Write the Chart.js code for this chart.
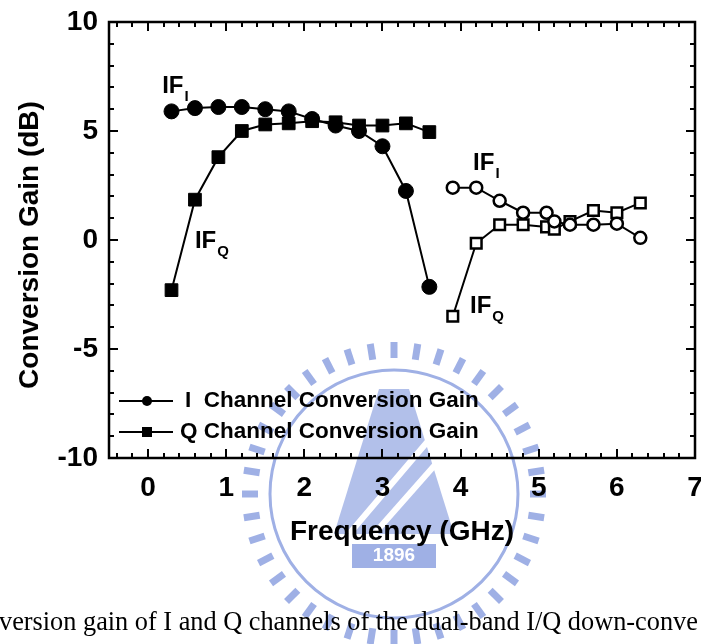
<!DOCTYPE html>
<html>
<head>
<meta charset="utf-8">
<script src="https://cdn.jsdelivr.net/npm/chart.js@4.4.0/dist/chart.umd.min.js"></script>
<style>
  html, body { margin: 0; padding: 0; background: #fff; }
  canvas { display: block; }
</style>
</head>
<body>
<canvas id="grafico" width="701" height="644"></canvas>
<script>
// datos
var band1Freq = [0.3, 0.6, 0.9, 1.2, 1.5, 1.8, 2.1, 2.4, 2.7, 3.0, 3.3, 3.6];
var band1I = [5.9, 6.05, 6.1, 6.1, 6.0, 5.9, 5.55, 5.25, 5.0, 4.3, 2.25, -2.15];
var band1Q = [-2.3, 1.85, 3.8, 5.0, 5.3, 5.35, 5.45, 5.4, 5.25, 5.25, 5.35, 4.95];
var band2Freq = [3.9, 4.2, 4.5, 4.8, 5.1, 5.2, 5.4, 5.7, 6.0, 6.3];
var band2I = [2.4, 2.4, 1.8, 1.25, 1.25, 0.85, 0.7, 0.7, 0.75, 0.1];
var band2Q = [-3.5, -0.15, 0.7, 0.7, 0.6, 0.5, 0.85, 1.35, 1.25, 1.7];
var xTicks = [0, 1, 2, 3, 4, 5, 6, 7];
var yTicks = [-10, -5, 0, 5, 10];
var legendLabels = ["I  Channel Conversion Gain", "Q Channel Conversion Gain"];

var FONT = "'Liberation Sans', Arial, sans-serif";

function puntos(xs, ys) {
  return xs.map(function (x, i) { return { x: x, y: ys[i] }; });
}

// sello azul claro detras del grafico (marca de agua)
var sello = {
  id: "sello",
  beforeDraw: function (chart) {
    var ctx = chart.ctx;
    var cx = 394, cy = 494;
    ctx.save();
    ctx.strokeStyle = "#9fb0e5";
    ctx.fillStyle = "#9fb0e5";
    ctx.lineWidth = 7;
    for (var k = 0; k < 40; k++) {
      var t = k / 40 * Math.PI * 2;
      ctx.beginPath();
      ctx.moveTo(cx + Math.cos(t) * 136, cy + Math.sin(t) * 136);
      ctx.lineTo(cx + Math.cos(t) * 152, cy + Math.sin(t) * 152);
      ctx.stroke();
    }
    ctx.lineWidth = 3;
    ctx.beginPath();
    ctx.arc(cx, cy, 124, 0, Math.PI * 2);
    ctx.stroke();
    // torre central simplificada
    ctx.globalAlpha = 0.8;
    ctx.beginPath();
    ctx.moveTo(cx - 15, cy - 105);
    ctx.lineTo(cx + 15, cy - 105);
    ctx.lineTo(cx + 60, cy + 40);
    ctx.lineTo(cx - 60, cy + 40);
    ctx.closePath();
    ctx.fill();
    ctx.globalAlpha = 1;
    ctx.strokeStyle = "#fff";
    ctx.lineWidth = 6;
    ctx.beginPath();
    ctx.moveTo(cx - 45, cy + 40); ctx.lineTo(cx + 40, cy - 60);
    ctx.moveTo(cx - 20, cy + 40); ctx.lineTo(cx + 55, cy - 45);
    ctx.stroke();
    // recuadro 1896
    ctx.fillStyle = "#9fb0e5";
    ctx.fillRect(cx - 42, cy + 50, 84, 24);
    ctx.fillStyle = "#fff";
    ctx.font = "bold 19px " + FONT;
    ctx.textAlign = "center";
    ctx.textBaseline = "middle";
    ctx.fillText("1896", cx, cy + 62);
    ctx.restore();
  }
};

// marco, marcas hacia dentro, titulos, etiquetas y leyenda
var decoracion = {
  id: "decoracion",
  afterDraw: function (chart) {
    var ctx = chart.ctx;
    var a = chart.chartArea;
    var sx = chart.scales.x, sy = chart.scales.y;
    ctx.save();
    ctx.strokeStyle = "#000";
    ctx.fillStyle = "#000";

    // marcas del eje x (cada 0.2)
    ctx.lineWidth = 2;
    for (var i = -2; i <= 35; i++) {
      var v = i / 5;
      var px = Math.round(sx.getPixelForValue(v));
      var len = (i % 5 === 0) ? 9 : 5;
      ctx.beginPath();
      ctx.moveTo(px, a.bottom); ctx.lineTo(px, a.bottom - len);
      ctx.moveTo(px, a.top); ctx.lineTo(px, a.top + len);
      ctx.stroke();
    }
    // marcas del eje y (cada 1)
    for (var j = -10; j <= 10; j++) {
      var py = Math.round(sy.getPixelForValue(j));
      var l2 = (j % 5 === 0) ? 9 : 5;
      ctx.beginPath();
      ctx.moveTo(a.left, py); ctx.lineTo(a.left + l2, py);
      ctx.moveTo(a.right, py); ctx.lineTo(a.right - l2, py);
      ctx.stroke();
    }
    // marco
    ctx.lineWidth = 2.5;
    ctx.strokeRect(a.left, a.top, a.right - a.left, a.bottom - a.top);

    // titulos de ejes
    ctx.font = "bold 28px " + FONT;
    ctx.textAlign = "center";
    ctx.textBaseline = "middle";
    ctx.fillText("Frequency (GHz)", 402, 532);
    ctx.save();
    ctx.translate(30, 245);
    ctx.rotate(-Math.PI / 2);
    ctx.fillText("Conversion Gain (dB)", 0, 0);
    ctx.restore();

    // etiquetas IF
    var etiquetas = [
      { x: 0.18, y: 6.74, sub: "I" },
      { x: 0.60, y: -0.37, sub: "Q" },
      { x: 4.16, y: 3.21, sub: "I" },
      { x: 4.12, y: -3.35, sub: "Q" }
    ];
    ctx.textAlign = "left";
    ctx.textBaseline = "alphabetic";
    etiquetas.forEach(function (e) {
      var ex = sx.getPixelForValue(e.x), ey = sy.getPixelForValue(e.y);
      ctx.font = "bold 24px " + FONT;
      ctx.fillText("IF", ex, ey);
      var w = ctx.measureText("IF").width;
      ctx.font = "bold 15px " + FONT;
      ctx.fillText(e.sub, ex + w + 1, ey + 8);
    });

    // leyenda
    var filas = [401, 432];
    ctx.lineWidth = 2;
    ctx.font = "bold 22.5px " + FONT;
    ctx.textBaseline = "middle";
    filas.forEach(function (fy, k) {
      ctx.beginPath();
      ctx.moveTo(119, fy); ctx.lineTo(173, fy);
      ctx.stroke();
      if (k === 0) {
        ctx.beginPath(); ctx.arc(147, fy, 5, 0, Math.PI * 2); ctx.fill();
      } else {
        ctx.fillRect(142, fy - 5, 10, 10);
      }
      ctx.fillText(legendLabels[k], k === 0 ? 185 : 180, fy);
    });

    // pie de figura (recortado)
    ctx.font = "26.3px 'Liberation Serif', 'Times New Roman', serif";
    ctx.textBaseline = "alphabetic";
    ctx.fillText("version gain of I and Q channels of the dual-band I/Q down-conve", -1, 630);
    ctx.restore();
  }
};

document.addEventListener("DOMContentLoaded", function () {
  var ctx = document.getElementById("grafico").getContext("2d");
  new Chart(ctx, {
    type: "scatter",
    data: {
      datasets: [
        {
          label: "I band 1",
          data: puntos(band1Freq, band1I),
          showLine: true,
          borderColor: "#000",
          borderWidth: 2,
          pointStyle: "circle",
          pointRadius: 7.5,
          pointBackgroundColor: "#000",
          pointBorderColor: "#000",
          pointBorderWidth: 1
        },
        {
          label: "Q band 1",
          data: puntos(band1Freq, band1Q),
          showLine: true,
          borderColor: "#000",
          borderWidth: 2,
          pointStyle: "rect",
          pointRadius: 9,
          pointBackgroundColor: "#000",
          pointBorderColor: "#000",
          pointBorderWidth: 1
        },
        {
          label: "I band 2",
          data: puntos(band2Freq, band2I),
          showLine: true,
          borderColor: "#000",
          borderWidth: 2,
          pointStyle: "circle",
          pointRadius: 6,
          pointBackgroundColor: "#fff",
          pointBorderColor: "#000",
          pointBorderWidth: 2.5
        },
        {
          label: "Q band 2",
          data: puntos(band2Freq, band2Q),
          showLine: true,
          borderColor: "#000",
          borderWidth: 2,
          pointStyle: "rect",
          pointRadius: 7.5,
          pointBackgroundColor: "#fff",
          pointBorderColor: "#000",
          pointBorderWidth: 2.5
        }
      ]
    },
    options: {
      responsive: false,
      animation: false,
      devicePixelRatio: 1,
      layout: { autoPadding: false, padding: { top: 22, right: 6, left: 0, bottom: 0 } },
      plugins: {
        legend: { display: false },
        tooltip: { enabled: false }
      },
      scales: {
        x: {
          type: "linear",
          min: -0.5,
          max: 7,
          grid: { display: false, drawTicks: false },
          border: { display: false },
          afterBuildTicks: function (s) { s.ticks = xTicks.map(function (v) { return { value: v }; }); },
          afterFit: function (s) { s.height = 186; s.paddingLeft = 0; s.paddingRight = 0; },
          ticks: {
            padding: 13,
            color: "#000",
            maxRotation: 0,
            font: { family: FONT, size: 28, weight: "bold" }
          }
        },
        y: {
          type: "linear",
          min: -10,
          max: 10,
          grid: { display: false, drawTicks: false },
          border: { display: false },
          afterBuildTicks: function (s) { s.ticks = yTicks.map(function (v) { return { value: v }; }); },
          afterFit: function (s) { s.width = 109; s.paddingTop = 0; s.paddingBottom = 0; },
          ticks: {
            padding: 11,
            color: "#000",
            font: { family: FONT, size: 28, weight: "bold" }
          }
        }
      }
    },
    plugins: [sello, decoracion]
  });
});
</script>
</body>
</html>
